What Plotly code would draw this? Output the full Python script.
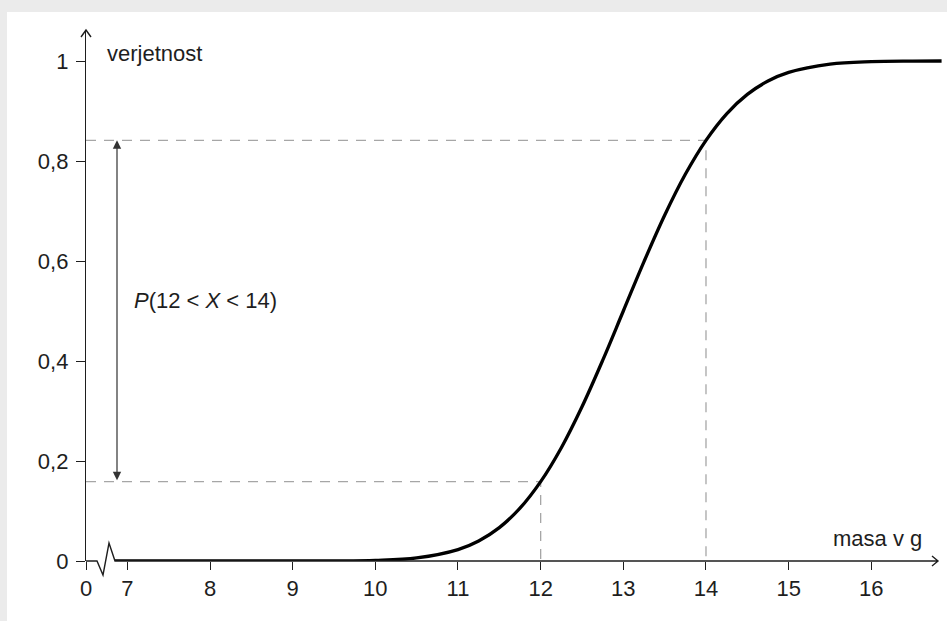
import plotly.graph_objects as go

# --- data ---
masa = [6.85, 8, 9, 9.5, 10, 10.5, 11, 11.25, 11.5, 11.75, 12, 12.25, 12.5, 12.75,
        13, 13.25, 13.5, 13.75, 14, 14.25, 14.5, 14.75, 15, 15.5, 16, 16.5, 16.85]
verjetnost = [0, 0, 0.0000, 0.0002, 0.0013, 0.0062, 0.0228, 0.0401, 0.0668, 0.1056,
              0.1587, 0.2266, 0.3085, 0.4013, 0.5, 0.5987, 0.6915, 0.7734, 0.8413,
              0.8944, 0.9332, 0.9599, 0.9772, 0.9938, 0.9987, 0.9998, 1.0]
meje = [12, 14]
meje_p = [0.1587, 0.8413]

x_tickvals = [6.5, 7, 8, 9, 10, 11, 12, 13, 14, 15, 16]
x_ticktext = ["0", "7", "8", "9", "10", "11", "12", "13", "14", "15", "16"]
y_tickvals = [0, 0.2, 0.4, 0.6, 0.8, 1]
y_ticktext = ["0", "0,2", "0,4", "0,6", "0,8", "1"]

FONT = "Liberation Sans"
FS = 22
INK = "#1e1e1e"
DASH = "#a6a6a6"
XMIN, XMAX = 6.5, 16.855
YMAX = 1.062

fig = go.Figure()

# dashed guide lines
for xb, pb in zip(meje, meje_p):
    fig.add_trace(go.Scatter(x=[XMIN, xb, xb], y=[pb, pb, 0], mode="lines",
                             line=dict(color=DASH, width=1.3, dash="10px,8px"),
                             hoverinfo="skip", showlegend=False))

# CDF curve
fig.add_trace(go.Scatter(x=masa, y=verjetnost, mode="lines",
                         line=dict(color="#000000", width=3.3, shape="spline", smoothing=1),
                         hoverinfo="skip", showlegend=False))

shapes = [
    # white panel
    dict(type="rect", xref="paper", yref="paper", x0=-0.0923, x1=1.01, y0=-0.12, y1=1.0339,
         fillcolor="white", line=dict(width=0), layer="below"),
    # x axis with break and arrow
    dict(type="path", xref="x", yref="paper", xsizemode="pixel", ysizemode="pixel",
         xanchor=XMIN, yanchor=0,
         path="M0,0 L11,0 L17,-14 L23,18 L29,0 L852,0 M846,5 L852,0 L846,-5",
         line=dict(color=INK, width=1.4), layer="above"),
    # y axis arrow
    dict(type="path", xref="paper", yref="paper", xsizemode="pixel", ysizemode="pixel",
         xanchor=0, yanchor=1, path="M-5,-7 L0,0 L5,-7",
         line=dict(color=INK, width=1.4), layer="above"),
]

annotations = [
    dict(x=6.875, y=meje_p[1], ax=6.875, ay=meje_p[0], xref="x", yref="y",
         axref="x", ayref="y", text="", showarrow=True, arrowside="end+start",
         arrowhead=2, startarrowhead=2, arrowsize=1.4, startarrowsize=1.4,
         arrowwidth=1.2, arrowcolor="#333333"),
    dict(x=7.06, y=0.522, xref="x", yref="y", xanchor="left", yanchor="middle",
         text="<i>P</i>(12 &lt; <i>X</i> &lt; 14)", showarrow=False,
         font=dict(family=FONT, size=FS, color=INK)),
    dict(x=6.73, y=1.016, xref="x", yref="y", xanchor="left", yanchor="middle",
         text="verjetnost", showarrow=False, font=dict(family=FONT, size=FS, color=INK)),
    dict(x=16.637, y=0.046, xref="x", yref="y", xanchor="right", yanchor="middle",
         text="masa v g", showarrow=False, font=dict(family=FONT, size=FS, color=INK)),
]

fig.update_layout(
    width=947, height=621,
    margin=dict(l=86, r=5, t=30, b=60, autoexpand=False),
    paper_bgcolor="#ebebeb", plot_bgcolor="white",
    shapes=shapes, annotations=annotations,
    font=dict(family=FONT, size=FS, color=INK),
    xaxis=dict(range=[XMIN, XMAX], tickvals=x_tickvals, ticktext=x_ticktext,
               ticks="outside", ticklen=8, tickwidth=1.3, tickcolor=INK,
               showline=False, showgrid=False, zeroline=False, fixedrange=True,
               automargin=False,
               tickfont=dict(family=FONT, size=FS, color=INK)),
    yaxis=dict(range=[0, YMAX], tickvals=y_tickvals, ticktext=y_ticktext,
               ticks="outside", ticklen=9, tickwidth=1.3, tickcolor=INK,
               showline=True, linecolor=INK, linewidth=1.4,
               showgrid=False, zeroline=False, fixedrange=True,
               automargin=False, ticklabelstandoff=3,
               tickfont=dict(family=FONT, size=FS, color=INK)),
)

fig.write_html("out.html", config={"displayModeBar": False},
               post_script="document.body.style.margin='0';document.body.style.overflow='hidden';")
